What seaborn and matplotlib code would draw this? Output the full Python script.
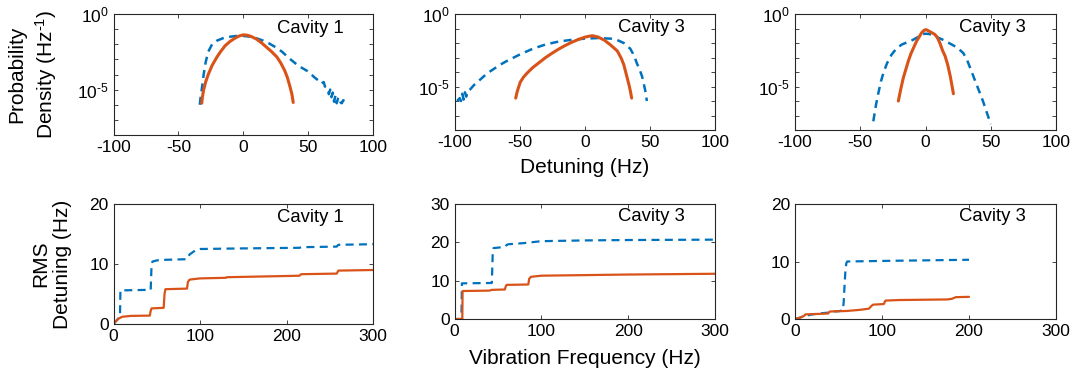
import numpy as np
import pandas as pd
import matplotlib
matplotlib.use("Agg")
import matplotlib.pyplot as plt
import matplotlib.ticker as mticker
import seaborn as sns

# ---------------- data ----------------
# Top row: probability density, stored as log10(density)
c1_blue_x = [-33.5, -33, -32, -30.5, -29, -27, -24, -20, -15, -10, -5, 0, 5, 10, 15, 20, 25, 30, 35, 40,
             45, 50, 55, 58, 60, 62, 63, 65, 66, 67, 68, 69, 70, 71, 72, 73, 74, 75, 76, 77, 78]
c1_blue_log = [-6.0, -5.6, -5.0, -4.0, -3.2, -2.5, -2.0, -1.75, -1.58, -1.5, -1.45, -1.45, -1.5, -1.6, -1.75,
               -1.95, -2.2, -2.5, -2.9, -3.25, -3.55, -3.8, -4.2, -4.4, -4.6, -4.5, -4.8, -4.9, -5.3, -5.0,
               -5.5, -5.2, -5.8, -5.4, -5.9, -5.6, -5.5, -5.85, -5.9, -5.7, -5.75]
c1_orng_x = [-32, -31.5, -30.5, -29, -27, -24, -21, -18, -14, -10, -6, -3, 0, 3, 6, 10, 14, 18, 22, 26,
             29, 32, 34, 36, 37.5, 38.5]
c1_orng_log = [-5.9, -5.5, -5.0, -4.5, -4.0, -3.4, -2.95, -2.55, -2.1, -1.8, -1.58, -1.45, -1.38, -1.4,
               -1.48, -1.65, -1.9, -2.2, -2.5, -2.85, -3.25, -3.75, -4.2, -4.8, -5.3, -5.85]

c3_blue_x = [-98, -96, -95, -94, -93, -92, -91, -90, -88, -85, -80, -75, -70, -65, -60, -50, -40, -30,
             -20, -10, 0, 10, 20, 25, 30, 35, 38, 40, 42, 44, 45, 46.5, 47.7]
c3_blue_log = [-6.0, -5.8, -6.0, -5.5, -5.9, -5.4, -5.7, -5.3, -5.2, -4.9, -4.5, -4.1, -3.8, -3.5, -3.25,
               -2.8, -2.4, -2.1, -1.9, -1.78, -1.7, -1.66, -1.7, -1.8, -2.0, -2.4, -2.9, -3.4, -3.8,
               -4.3, -4.7, -5.3, -6.0]
c3_orng_x = [-53, -52, -51, -49.5, -47, -44, -40, -35, -30, -25, -20, -15, -10, -5, 0, 4, 6, 10, 15, 20,
             25, 28, 30, 32, 34, 35, 36]
c3_orng_log = [-5.8, -5.4, -5.1, -4.7, -4.35, -4.05, -3.7, -3.35, -3.0, -2.7, -2.42, -2.17, -1.95, -1.76,
               -1.6, -1.52, -1.5, -1.58, -1.8, -2.15, -2.55, -3.05, -3.5, -4.2, -4.9, -5.3, -5.8]

c3b_blue_x = [-40, -38, -36, -34, -32, -29.5, -26, -22, -18, -14, -10, -6, -3, 0, 3, 6, 10, 14, 18, 22,
              26, 29, 32, 35, 38, 41, 44, 47, 50]
c3b_blue_log = [-7.4, -6.3, -5.4, -4.6, -4.0, -3.4, -2.8, -2.35, -2.1, -1.95, -1.8, -1.6, -1.4, -1.36,
                -1.38, -1.5, -1.65, -1.8, -2.0, -2.2, -2.45, -2.7, -3.2, -3.9, -4.6, -5.3, -6.0, -6.8, -7.6]
c3b_orng_x = [-20.8, -19, -17, -15, -13, -11, -9, -7, -5, -3, -1, 0, 1, 3, 5, 7, 9, 11, 13, 15, 17, 19, 21.4]
c3b_orng_log = [-6.0, -5.2, -4.4, -3.8, -3.2, -2.7, -2.3, -1.9, -1.6, -1.3, -1.12, -1.08, -1.1, -1.2,
                -1.3, -1.4, -1.6, -2.0, -2.5, -2.9, -3.5, -4.3, -5.5]

# Bottom row: cumulative RMS detuning vs vibration frequency
r1_blue_f = [0, 3, 6, 7.5, 8, 43, 44, 45, 50, 60, 85, 88, 95, 100, 150, 215, 217, 258, 260, 300]
r1_blue_v = [0, 0.5, 1.0, 1.2, 5.6, 5.7, 9.9, 10.4, 10.6, 10.7, 10.8, 11.6, 12.3, 12.5, 12.6, 12.7,
             12.8, 12.9, 13.2, 13.3]
r1_orng_f = [0, 3, 6, 10, 20, 42, 43, 44, 58, 59, 60, 85, 86, 88, 100, 130, 131, 200, 215, 217, 258, 260, 300]
r1_orng_v = [0, 0.5, 0.9, 1.2, 1.35, 1.4, 2.2, 2.6, 2.7, 5.0, 5.8, 5.9, 7.0, 7.4, 7.6, 7.7, 7.8, 8.0,
             8.05, 8.3, 8.4, 8.9, 9.0]

r3_blue_f = [0, 8, 8.5, 43, 44, 45, 58, 60, 62, 80, 100, 150, 200, 300]
r3_blue_v = [0, 0, 9.3, 9.4, 17, 18.5, 18.8, 19.3, 19.5, 19.8, 20.3, 20.5, 20.6, 20.7]
r3_orng_f = [0, 9, 9.3, 40, 43, 58, 59, 60, 85, 86, 88, 100, 200, 300]
r3_orng_v = [0, 0, 7.3, 7.4, 7.6, 7.7, 8.5, 8.9, 9.0, 10.5, 11.0, 11.3, 11.6, 11.8]

r3b_blue_f = [0, 5, 10, 20, 30, 38, 40, 50, 55, 56, 57, 58, 59, 60, 100, 150, 200]
r3b_blue_v = [0, 0.2, 0.5, 0.8, 1.0, 1.1, 1.3, 1.35, 1.5, 3, 6, 8.5, 9.7, 10.0, 10.1, 10.2, 10.3]
r3b_orng_f = [0, 5, 10, 12, 38, 40, 60, 75, 85, 88, 90, 102, 104, 120, 175, 180, 185, 200]
r3b_orng_v = [0, 0.2, 0.5, 0.8, 0.95, 1.3, 1.4, 1.6, 1.8, 2.3, 2.5, 2.6, 3.2, 3.3, 3.4, 3.5, 3.8, 3.85]

titles = ["Cavity 1", "Cavity 3", "Cavity 3"]
top_xticks = [-100, -50, 0, 50, 100]
bot_xticks = [0, 100, 200, 300]

# ---------------- style ----------------
sns.set_theme(style="ticks")
plt.rcParams.update({
    "font.family": ["Liberation Sans", "DejaVu Sans"],
    "mathtext.fontset": "custom",
    "mathtext.rm": "Liberation Sans",
    "mathtext.it": "Liberation Sans:italic",
    "mathtext.bf": "Liberation Sans:bold",
    "axes.unicode_minus": False,
    "axes.linewidth": 0.8,
    "axes.edgecolor": "#262626",
    "xtick.direction": "in",
    "ytick.direction": "in",
    "xtick.top": True,
    "ytick.right": True,
    "xtick.major.size": 3,
    "ytick.major.size": 3,
    "xtick.minor.size": 3,
    "ytick.minor.size": 3,
    "xtick.major.width": 0.6,
    "ytick.major.width": 0.6,
    "ytick.minor.width": 0.6,
    "xtick.labelsize": 12.5,
    "ytick.labelsize": 12.5,
    "xtick.color": "#262626",
    "ytick.color": "#262626",
    "xtick.labelcolor": "black",
    "ytick.labelcolor": "black",
    "text.color": "black",
    "axes.labelcolor": "black",
})

BLUE = "#0072BD"
ORANGE = "#D95319"

W, H = 1078, 371
fig = plt.figure(figsize=(W / 100, H / 100), dpi=100)


def box(l, r, t, b):
    return [l / W, 1 - b / H, (r - l) / W, (b - t) / H]


top_boxes = [box(113.5, 373, 14, 135), box(454.5, 715, 14, 130), box(795, 1056, 14, 130)]
bot_boxes = [box(113.5, 373, 204, 324), box(454.5, 715, 204, 319), box(795, 1056, 204, 319)]

top_data = [(c1_blue_x, c1_blue_log, c1_orng_x, c1_orng_log),
            (c3_blue_x, c3_blue_log, c3_orng_x, c3_orng_log),
            (c3b_blue_x, c3b_blue_log, c3b_orng_x, c3b_orng_log)]
bot_data = [(r1_blue_f, r1_blue_v, r1_orng_f, r1_orng_v),
            (r3_blue_f, r3_blue_v, r3_orng_f, r3_orng_v),
            (r3b_blue_f, r3b_blue_v, r3b_orng_f, r3b_orng_v)]
bot_ylims = [(0, 20), (0, 30), (0, 20)]
bot_yticks = [[0, 10, 20], [0, 10, 20, 30], [0, 10, 20]]

LABEL_FS = 15


def make_df(bx, by, ox, oy):
    return pd.DataFrame({
        "x": list(bx) + list(ox),
        "y": list(by) + list(oy),
        "s": ["a"] * len(bx) + ["b"] * len(ox),
    })


for i in range(3):
    # ---- top row ----
    ax = fig.add_axes(top_boxes[i])
    bx, blog, ox, olog = top_data[i]
    df = make_df(bx, 10 ** np.array(blog), ox, 10 ** np.array(olog))
    sns.lineplot(data=df[df.s == "a"], x="x", y="y", color=BLUE, lw=1.8,
                 dashes=(3.2, 2.2), estimator=None, sort=False, ax=ax, legend=False)
    sns.lineplot(data=df[df.s == "b"], x="x", y="y", color=ORANGE, lw=2.2,
                 estimator=None, sort=False, ax=ax, legend=False)
    ax.set_yscale("log")
    ax.set_ylim(1e-8, 1)
    ax.set_xlim(-100, 100)
    ax.set_xticks(top_xticks)
    ax.yaxis.set_major_locator(mticker.FixedLocator([1e-5, 1e0]))
    ax.yaxis.set_major_formatter(mticker.FixedFormatter([r"$10^{\text{-5}}$", r"$10^{\text{0}}$"]))
    ax.yaxis.set_minor_locator(mticker.FixedLocator([1e-7, 1e-6, 1e-4, 1e-3, 1e-2, 1e-1]))
    ax.yaxis.set_minor_formatter(mticker.NullFormatter())
    ax.set_xlabel("")
    ax.set_ylabel("")
    ax.text(0.757, 0.88, titles[i], transform=ax.transAxes, fontsize=13.3,
            ha="center", va="center", color="black")
    for s in ax.spines.values():
        s.set_visible(True)
    if i == 0:
        ax.set_ylabel("Probability\nDensity (Hz$^{\\text{-1}}$)", fontsize=LABEL_FS, linespacing=1.35)
        ax.yaxis.set_label_coords(-0.21, 0.5)
    if i == 1:
        ax.set_xlabel("Detuning (Hz)", fontsize=LABEL_FS, labelpad=6)

    # ---- bottom row ----
    ax = fig.add_axes(bot_boxes[i])
    bf, bv, of, ov = bot_data[i]
    df = make_df(bf, bv, of, ov)
    sns.lineplot(data=df[df.s == "a"], x="x", y="y", color=BLUE, lw=1.6,
                 dashes=(3.6, 2.4), estimator=None, sort=False, ax=ax, legend=False)
    sns.lineplot(data=df[df.s == "b"], x="x", y="y", color=ORANGE, lw=1.6,
                 estimator=None, sort=False, ax=ax, legend=False)
    ax.set_xlim(0, 300)
    ax.set_xticks(bot_xticks)
    ax.set_ylim(*bot_ylims[i])
    ax.set_yticks(bot_yticks[i])
    ax.set_xlabel("")
    ax.set_ylabel("")
    ax.text(0.757, 0.89, titles[i], transform=ax.transAxes, fontsize=13.3,
            ha="center", va="center", color="black")
    for s in ax.spines.values():
        s.set_visible(True)
    if i == 0:
        ax.set_ylabel("RMS\nDetuning (Hz)", fontsize=LABEL_FS, linespacing=1.2)
        ax.yaxis.set_label_coords(-0.16, 0.5)
    if i == 1:
        ax.set_xlabel("Vibration Frequency (Hz)", fontsize=LABEL_FS, labelpad=7)

fig.savefig("out.png", dpi=100)
